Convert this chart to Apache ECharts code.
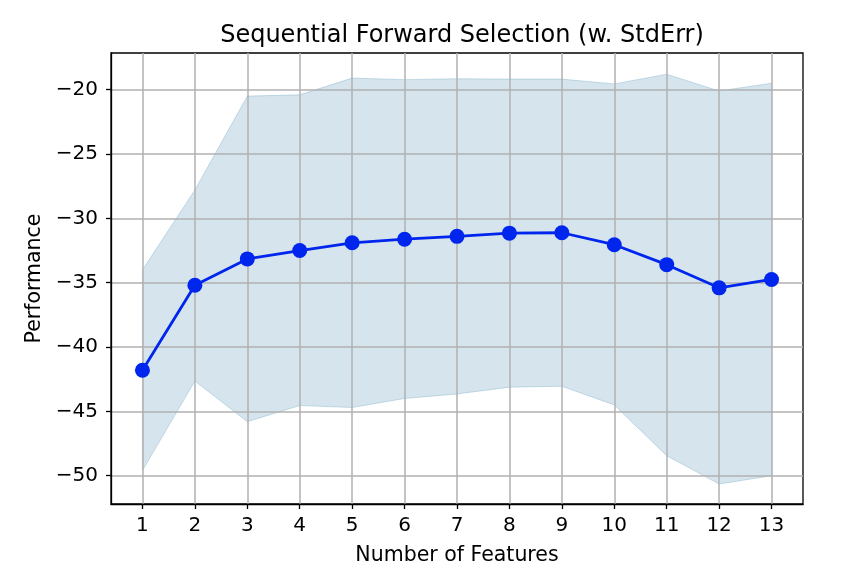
<!DOCTYPE html>
<html><head><meta charset="utf-8">
<script src="https://cdn.jsdelivr.net/npm/echarts@6/dist/echarts.min.js"></script>
<style>html,body{margin:0;padding:0;background:#fff}#c{width:856px;height:584px}</style>
</head><body><div id="c"></div>
<script>
const features = [1,2,3,4,5,6,7,8,9,10,11,12,13];
const meanPerf = [-41.8,-35.2,-33.15,-32.5,-31.9,-31.62,-31.4,-31.15,-31.12,-32.05,-33.6,-35.4,-34.75];
const upperBand = [-34.0,-27.8,-20.5,-20.4,-19.1,-19.22,-19.15,-19.18,-19.18,-19.55,-18.8,-20.1,-19.5];
const lowerBand = [-49.6,-42.65,-45.8,-44.55,-44.7,-44.0,-43.65,-43.12,-43.05,-44.5,-48.45,-50.65,-50.0];
const yTicks = [-50,-45,-40,-35,-30,-25,-20];
const xTicks = features;

const fmt = v => String(v).replace('-', '\u2212');
const font = 'DejaVu Sans';
const chart = echarts.init(document.getElementById('c'), null, {renderer:'canvas'});
chart.setOption({
  animation:false,
  backgroundColor:'#fff',
  title:{text:'Sequential Forward Selection (w. StdErr)',left:457,top:19,textAlign:'center',
    textStyle:{fontFamily:font,fontSize:24,fontWeight:'normal',color:'#000'}},
  grid:{left:111,top:53,right:53,bottom:80,show:true,borderColor:'#000',borderWidth:1.3,z:1},
  xAxis:{type:'value',min:0.4,max:13.6,z:1.5,
    name:'Number of Features',nameLocation:'middle',nameGap:41,
    nameTextStyle:{fontFamily:font,fontSize:20.5,color:'#000'},
    axisLine:{show:true,onZero:false,lineStyle:{color:'#000',width:1.3}},
    axisTick:{show:true,customValues:xTicks,length:5,inside:false,lineStyle:{color:'#000',width:1.3}},
    axisLabel:{customValues:xTicks,margin:12,fontFamily:font,fontSize:20,color:'#000',formatter:fmt},
    splitLine:{show:true,customValues:xTicks,lineStyle:{color:'#b0b0b0',width:1.5}}},
  yAxis:{type:'value',min:-52.2,max:-17.15,z:1.5,
    name:'Performance',nameLocation:'middle',nameGap:65,
    nameTextStyle:{fontFamily:font,fontSize:20.5,color:'#000'},
    axisLine:{show:true,onZero:false,lineStyle:{color:'#000',width:1.3}},
    axisTick:{show:true,customValues:yTicks,length:5,lineStyle:{color:'#000',width:1.3}},
    axisLabel:{customValues:yTicks,margin:13,fontFamily:font,fontSize:20,color:'#000',formatter:fmt},
    splitLine:{show:true,customValues:yTicks,lineStyle:{color:'#b0b0b0',width:1.5}}},
  series:[
    {type:'custom',z:1,silent:true,
      data:features.map((x,i)=>[x,lowerBand[i],upperBand[i]]),
      encode:{x:0,y:[1,2]},
      renderItem:(params,api)=>{
        if (params.dataIndex !== 0) return null;
        const pts = [];
        for (let i=0;i<features.length;i++) pts.push(api.coord([features[i],upperBand[i]]));
        for (let i=features.length-1;i>=0;i--) pts.push(api.coord([features[i],lowerBand[i]]));
        return {type:'polygon',shape:{points:pts},
          style:{fill:'rgba(60,130,170,0.21)',stroke:'rgba(60,130,170,0.25)',lineWidth:1}};
      }},
    {type:'line',data:features.map((x,i)=>[x,meanPerf[i]]),symbol:'circle',symbolSize:15,
      lineStyle:{color:'#0026ee',width:2.8},itemStyle:{color:'#0026ee'},z:5}
  ]
});
</script></body></html>
